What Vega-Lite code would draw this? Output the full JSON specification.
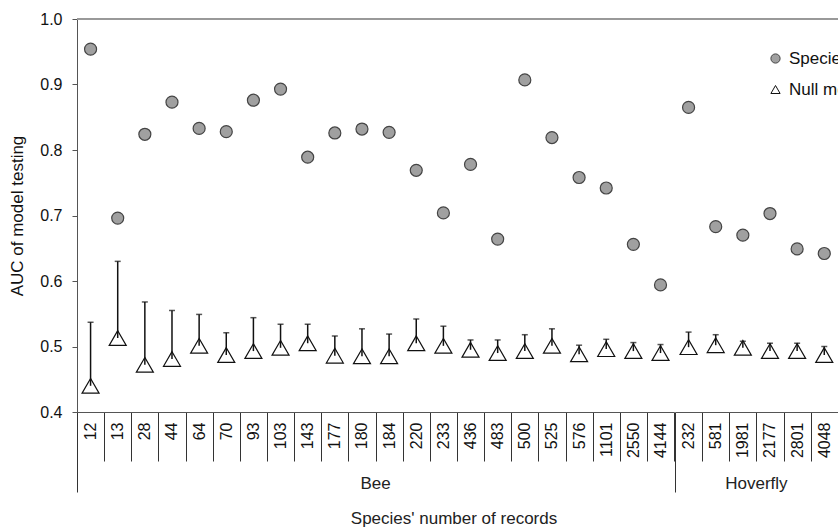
{
  "$schema": "https://vega.github.io/schema/vega-lite/v6.json",
  "padding": {"left": 8, "top": 11, "right": 0, "bottom": 0},
  "background": "white",
  "config": {
    "view": {"stroke": null},
    "font": "Liberation Sans",
    "facet": {"spacing": 0},
    "legend": {"disable": false}
  },
  "data": {"values": [
    {"group":"Bee","records":"12","model":"Species models","auc":0.954},
    {"group":"Bee","records":"12","model":"Null models","auc":0.440,"upper":0.537},
    {"group":"Bee","records":"13","model":"Species models","auc":0.696},
    {"group":"Bee","records":"13","model":"Null models","auc":0.513,"upper":0.630},
    {"group":"Bee","records":"28","model":"Species models","auc":0.824},
    {"group":"Bee","records":"28","model":"Null models","auc":0.472,"upper":0.568},
    {"group":"Bee","records":"44","model":"Species models","auc":0.873},
    {"group":"Bee","records":"44","model":"Null models","auc":0.481,"upper":0.555},
    {"group":"Bee","records":"64","model":"Species models","auc":0.833},
    {"group":"Bee","records":"64","model":"Null models","auc":0.501,"upper":0.549},
    {"group":"Bee","records":"70","model":"Species models","auc":0.828},
    {"group":"Bee","records":"70","model":"Null models","auc":0.487,"upper":0.521},
    {"group":"Bee","records":"93","model":"Species models","auc":0.876},
    {"group":"Bee","records":"93","model":"Null models","auc":0.493,"upper":0.544},
    {"group":"Bee","records":"103","model":"Species models","auc":0.893},
    {"group":"Bee","records":"103","model":"Null models","auc":0.498,"upper":0.534},
    {"group":"Bee","records":"143","model":"Species models","auc":0.789},
    {"group":"Bee","records":"143","model":"Null models","auc":0.505,"upper":0.534},
    {"group":"Bee","records":"177","model":"Species models","auc":0.826},
    {"group":"Bee","records":"177","model":"Null models","auc":0.486,"upper":0.516},
    {"group":"Bee","records":"180","model":"Species models","auc":0.832},
    {"group":"Bee","records":"180","model":"Null models","auc":0.485,"upper":0.527},
    {"group":"Bee","records":"184","model":"Species models","auc":0.827},
    {"group":"Bee","records":"184","model":"Null models","auc":0.485,"upper":0.519},
    {"group":"Bee","records":"220","model":"Species models","auc":0.769},
    {"group":"Bee","records":"220","model":"Null models","auc":0.505,"upper":0.542},
    {"group":"Bee","records":"233","model":"Species models","auc":0.704},
    {"group":"Bee","records":"233","model":"Null models","auc":0.501,"upper":0.531},
    {"group":"Bee","records":"436","model":"Species models","auc":0.778},
    {"group":"Bee","records":"436","model":"Null models","auc":0.495,"upper":0.510},
    {"group":"Bee","records":"483","model":"Species models","auc":0.664},
    {"group":"Bee","records":"483","model":"Null models","auc":0.490,"upper":0.510},
    {"group":"Bee","records":"500","model":"Species models","auc":0.907},
    {"group":"Bee","records":"500","model":"Null models","auc":0.493,"upper":0.518},
    {"group":"Bee","records":"525","model":"Species models","auc":0.819},
    {"group":"Bee","records":"525","model":"Null models","auc":0.501,"upper":0.527},
    {"group":"Bee","records":"576","model":"Species models","auc":0.758},
    {"group":"Bee","records":"576","model":"Null models","auc":0.488,"upper":0.502},
    {"group":"Bee","records":"1101","model":"Species models","auc":0.742},
    {"group":"Bee","records":"1101","model":"Null models","auc":0.496,"upper":0.511},
    {"group":"Bee","records":"2550","model":"Species models","auc":0.656},
    {"group":"Bee","records":"2550","model":"Null models","auc":0.493,"upper":0.506},
    {"group":"Bee","records":"4144","model":"Species models","auc":0.594},
    {"group":"Bee","records":"4144","model":"Null models","auc":0.490,"upper":0.503},
    {"group":"Hoverfly","records":"232","model":"Species models","auc":0.865},
    {"group":"Hoverfly","records":"232","model":"Null models","auc":0.499,"upper":0.522},
    {"group":"Hoverfly","records":"581","model":"Species models","auc":0.683},
    {"group":"Hoverfly","records":"581","model":"Null models","auc":0.502,"upper":0.518},
    {"group":"Hoverfly","records":"1981","model":"Species models","auc":0.670},
    {"group":"Hoverfly","records":"1981","model":"Null models","auc":0.498,"upper":0.508},
    {"group":"Hoverfly","records":"2177","model":"Species models","auc":0.703},
    {"group":"Hoverfly","records":"2177","model":"Null models","auc":0.493,"upper":0.505},
    {"group":"Hoverfly","records":"2801","model":"Species models","auc":0.649},
    {"group":"Hoverfly","records":"2801","model":"Null models","auc":0.493,"upper":0.505},
    {"group":"Hoverfly","records":"4048","model":"Species models","auc":0.642},
    {"group":"Hoverfly","records":"4048","model":"Null models","auc":0.487,"upper":0.500}
  ]},
  "facet": {
    "column": {
      "field": "group", "type": "nominal", "sort": ["Bee", "Hoverfly"],
      "title": "Species' number of records",
      "header": {
        "labelOrient": "bottom", "titleOrient": "bottom",
        "labelFontSize": 17, "labelColor": "#222", "labelPadding": 64,
        "titleFontSize": 17, "titleFontWeight": "normal", "titleColor": "#222", "titlePadding": 9
      }
    }
  },
  "spacing": 0,
  "bounds": "flush",
  "resolve": {"scale": {"x": "independent"}},
  "spec": {
    "width": {"step": 27.14},
    "height": 393,
    "encoding": {
      "x": {
        "field": "records", "type": "nominal", "sort": null, "title": null,
        "axis": {
          "tickBand": "extent",
          "tickSize": {"expr": "datum.value == null ? 80 : 49"},
          "tickColor": "#333", "domainColor": "#555",
          "labelAngle": -90, "labelPadding": -39, "labelFontSize": 16, "labelColor": "#111"
        }
      },
      "y": {
        "field": "auc", "type": "quantitative",
        "scale": {"domain": [0.4, 1.0], "nice": false, "zero": false},
        "title": "AUC of model testing",
        "axis": {
          "values": [0.4, 0.5, 0.6, 0.7, 0.8, 0.9, 1.0], "format": ".1f",
          "grid": false, "tickSize": 5, "tickColor": "#555", "domainColor": "#555",
          "labelFontSize": 16, "labelColor": "#111", "labelPadding": 10,
          "titleFontSize": 17, "titleFontWeight": "normal", "titleColor": "#111", "titlePadding": 13
        }
      },
      "shape": {
        "field": "model", "type": "nominal",
        "scale": {"domain": ["Species models", "Null models"], "range": ["circle", "triangle-up"]},
        "title": null,
        "legend": {
          "orient": "none", "legendX": 690, "legendY": 31,
          "labelFontSize": 17, "labelColor": "#111", "symbolSize": 85,
          "rowPadding": 13, "symbolStrokeWidth": 1, "labelOffset": 5
        }
      },
      "fill": {
        "field": "model", "type": "nominal",
        "scale": {"domain": ["Species models", "Null models"], "range": ["#a0a0a0", "white"]},
        "title": null
      },
      "stroke": {
        "field": "model", "type": "nominal",
        "scale": {"domain": ["Species models", "Null models"], "range": ["#444", "#111"]},
        "title": null
      }
    },
    "layer": [
      {
        "mark": {"type": "rule", "color": "#999", "strokeWidth": 1},
        "encoding": {"y": {"datum": 1.0}, "x": null, "shape": null, "fill": null, "stroke": null}
      },
      {
        "transform": [{"filter": "datum.model === 'Species models'"}],
        "mark": {"type": "point", "filled": true, "strokeWidth": 1.2, "opacity": 1, "size": 144}
      },
      {
        "transform": [{"filter": "datum.model === 'Null models'"}],
        "mark": {"type": "point", "filled": true, "strokeWidth": 1.2, "opacity": 1, "size": 289}
      },
      {
        "transform": [{"filter": "datum.model === 'Null models'"}],
        "mark": {"type": "rule", "color": "#111", "strokeWidth": 1.5},
        "encoding": {
          "y2": {"field": "upper"},
          "shape": null, "fill": null, "stroke": null
        }
      },
      {
        "transform": [{"filter": "datum.model === 'Null models'"}],
        "mark": {"type": "tick", "orient": "horizontal", "size": 6, "thickness": 1.5, "color": "#111"},
        "encoding": {
          "y": {"field": "upper", "type": "quantitative"},
          "shape": null, "fill": null, "stroke": null
        }
      }
    ]
  }
}
